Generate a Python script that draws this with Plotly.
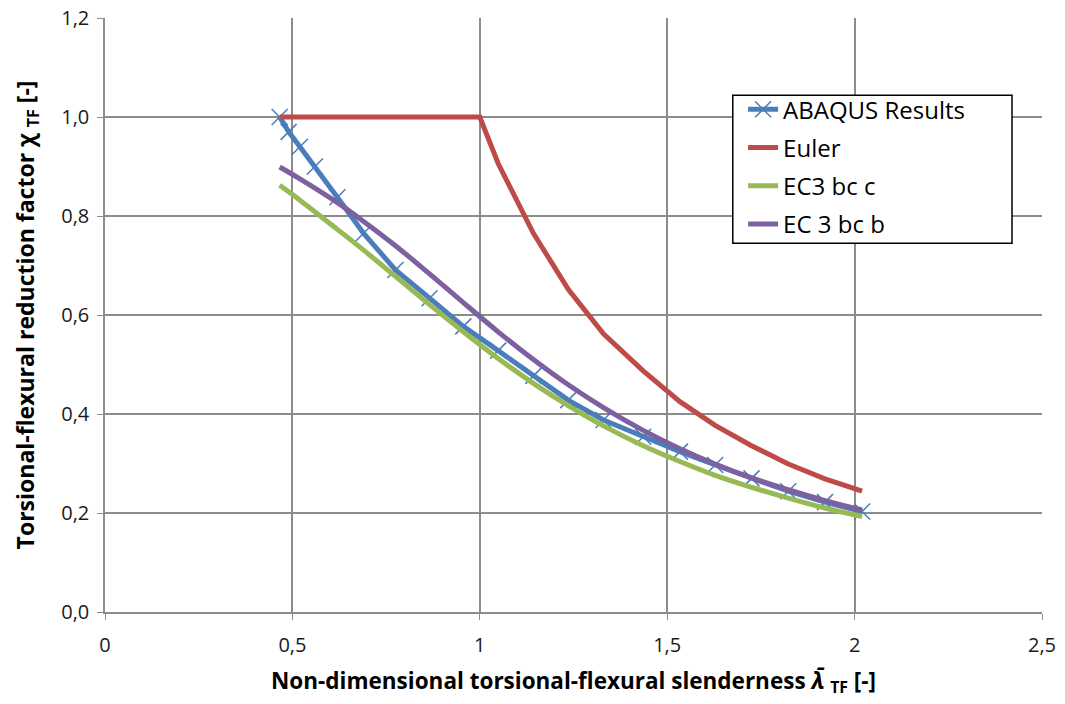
import plotly.graph_objects as go

# ABAQUS results
abaqus_x = [0.466, 0.49, 0.52, 0.56, 0.62, 0.69, 0.775, 0.866, 0.956, 1.049,
            1.143, 1.236, 1.33, 1.436, 1.534, 1.628, 1.725, 1.823, 1.921, 2.02]
abaqus_y = [1.0, 0.97, 0.94, 0.90, 0.838, 0.765, 0.691, 0.634, 0.577, 0.528,
            0.477, 0.428, 0.388, 0.354, 0.324, 0.297, 0.270, 0.244, 0.222, 0.203]

# Euler
euler_x = [0.466, 1.0, 1.049, 1.143, 1.236, 1.33, 1.436, 1.534, 1.628, 1.725, 1.823, 1.921, 2.02]
euler_y = [1.0, 1.0, 0.906, 0.765, 0.652, 0.562, 0.487, 0.425, 0.377, 0.336, 0.299, 0.269, 0.244]

# EC3 buckling curves
ec_x = [0.466, 0.52, 0.62, 0.69, 0.775, 0.866, 0.956, 1.049, 1.143, 1.236,
        1.33, 1.436, 1.534, 1.628, 1.725, 1.823, 1.921, 2.02]
ec3c_y = [0.862, 0.832, 0.773, 0.731, 0.678, 0.621, 0.566, 0.512, 0.462, 0.417,
          0.376, 0.336, 0.304, 0.276, 0.252, 0.230, 0.210, 0.193]
ec3b_y = [0.899, 0.875, 0.827, 0.789, 0.740, 0.683, 0.625, 0.566, 0.510, 0.459,
          0.413, 0.367, 0.330, 0.299, 0.271, 0.247, 0.225, 0.206]

x_ticks = [0, 0.5, 1, 1.5, 2, 2.5]
x_ticktext = ["0", "0,5", "1", "1,5", "2", "2,5"]
y_ticks = [0, 0.2, 0.4, 0.6, 0.8, 1.0, 1.2]
y_ticktext = ["0,0", "0,2", "0,4", "0,6", "0,8", "1,0", "1,2"]

FONT = "Open Sans"
fig = go.Figure()
fig.add_trace(go.Scatter(x=abaqus_x, y=abaqus_y, name="ABAQUS Results", mode="lines+markers",
                         line=dict(color="#4A7EBB", width=5),
                         marker=dict(symbol="x-thin", size=16, line=dict(color="#4A7EBB", width=1.5)),
                         legendgroup="a"))
fig.add_trace(go.Scatter(x=euler_x, y=euler_y, name="Euler", mode="lines",
                         line=dict(color="#BE4B48", width=5), legendgroup="b"))
fig.add_trace(go.Scatter(x=ec_x, y=ec3c_y, name="EC3 bc c", mode="lines",
                         line=dict(color="#98B954", width=5, shape="spline"), legendgroup="c"))
fig.add_trace(go.Scatter(x=ec_x, y=ec3b_y, name="EC 3 bc b", mode="lines",
                         line=dict(color="#7D60A0", width=5, shape="spline"), legendgroup="d"))

# legend frame
fig.add_shape(type="rect", xref="paper", yref="paper", x0=0.670, x1=0.968, y0=0.621, y1=0.870,
              line=dict(color="black", width=1.5), fillcolor="white", layer="above")

fig.update_layout(
    width=1065, height=704,
    margin=dict(l=105, r=23, t=18, b=92),
    paper_bgcolor="white", plot_bgcolor="white",
    font=dict(family=FONT, size=20, color="#000000"),
    legend=dict(x=0.681, y=0.8835, xanchor="left", yanchor="top",
                bgcolor="rgba(0,0,0,0)", borderwidth=0,
                font=dict(family=FONT, size=24), tracegroupgap=4),
    xaxis=dict(range=[0, 2.5], tickvals=x_ticks, ticktext=x_ticktext, automargin=False,
               showgrid=True, gridcolor="#8C8C8C", gridwidth=1.5,
               showline=True, linecolor="#8C8C8C", linewidth=1.5,
               ticks="outside", ticklen=6, tickcolor="#8C8C8C", zeroline=False,
               ticklabelstandoff=8,
               tickfont=dict(size=20, color="#1a1a1a"),
               title=dict(text="<b>Non-dimensional torsional-flexural slenderness <i>λ̄</i> <sub>TF</sub> [-]</b>",
                          font=dict(size=22.5), standoff=16)),
    yaxis=dict(range=[0, 1.2], tickvals=y_ticks, ticktext=y_ticktext, automargin=False,
               showgrid=True, gridcolor="#8C8C8C", gridwidth=1.5,
               showline=True, linecolor="#8C8C8C", linewidth=1.5,
               ticks="outside", ticklen=6, tickcolor="#8C8C8C", zeroline=False,
               ticklabelstandoff=4,
               tickfont=dict(size=20, color="#1a1a1a"),
               title=dict(text="<b>Torsional-flexural reduction factor χ <sub>TF</sub> [-]</b>",
                          font=dict(size=23), standoff=20)),
)

fig.write_html("out.html")
